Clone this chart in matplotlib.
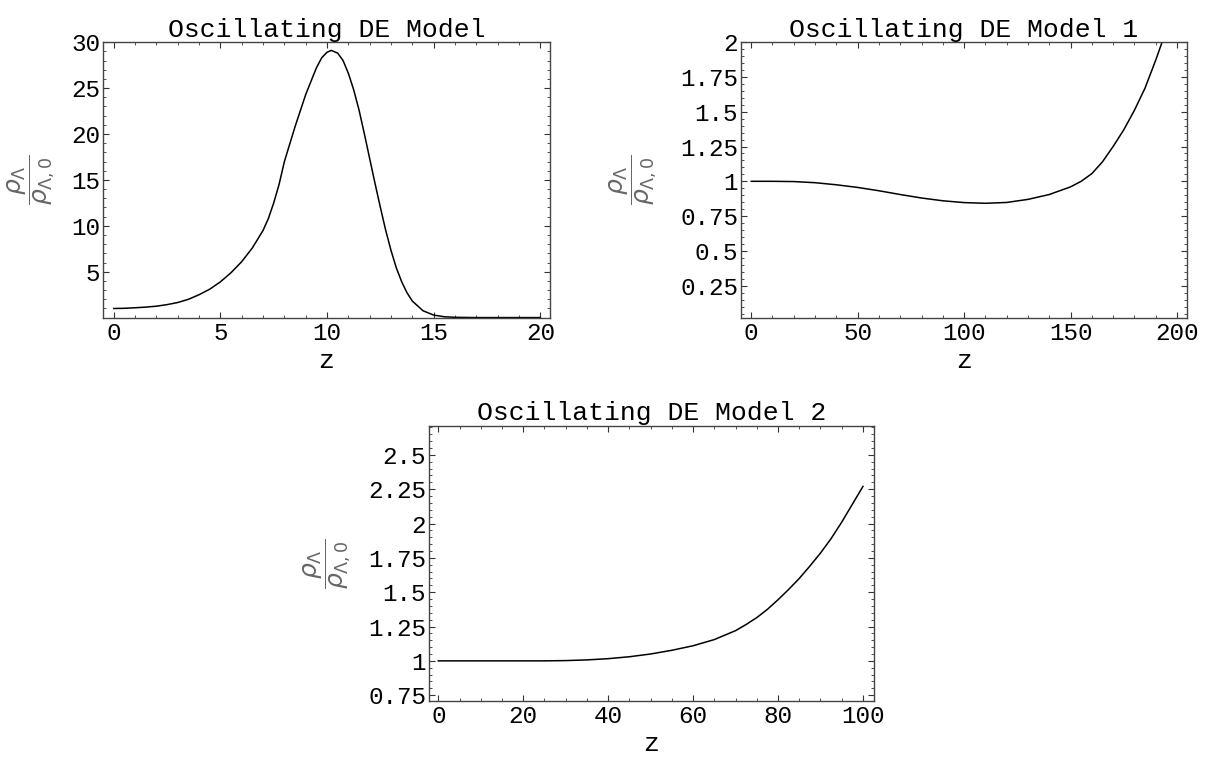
import matplotlib
matplotlib.use("Agg")
import matplotlib.pyplot as plt
from matplotlib.ticker import MultipleLocator

# values
z_model = [0, 0.5, 1, 1.5, 2, 2.5, 3, 3.5, 4, 4.5, 5, 5.5, 6, 6.5, 7, 7.25,
           7.5, 7.75, 8, 8.5, 9, 9.5, 9.75, 10, 10.2, 10.5, 10.75, 11, 11.25,
           11.5, 11.75, 12, 12.25, 12.5, 12.75, 13, 13.25, 13.5, 13.75, 14,
           14.5, 15, 15.5, 16, 17, 18, 19, 20]
rho_model = [1.0, 1.02, 1.08, 1.15, 1.25, 1.42, 1.65, 2.0, 2.5, 3.1, 3.9, 4.9,
             6.1, 7.6, 9.5, 10.8, 12.5, 14.5, 17.0, 20.8, 24.3, 27.2, 28.3,
             28.9, 29.1, 28.8, 28.0, 26.6, 24.8, 22.6, 20.0, 17.3, 14.6, 12.0,
             9.5, 7.3, 5.4, 3.9, 2.7, 1.8, 0.75, 0.28, 0.1, 0.04, 0.01, 0.01,
             0.01, 0.01]

z_model1 = [0, 10, 20, 30, 40, 50, 60, 70, 80, 90, 100, 110, 120, 130, 140,
            150, 155, 160, 165, 170, 175, 180, 185, 188, 190, 193]
rho_model1 = [1.0, 1.0, 0.998, 0.99, 0.975, 0.956, 0.932, 0.905, 0.88, 0.86,
              0.847, 0.842, 0.848, 0.87, 0.905, 0.96, 1.0, 1.055, 1.14, 1.25,
              1.37, 1.51, 1.67, 1.79, 1.87, 2.0]

z_model2 = [0, 10, 20, 25, 30, 35, 40, 45, 50, 55, 60, 65, 70, 72.5, 75,
            77.5, 80, 82.5, 85, 87.5, 90, 92.5, 95, 97.5, 100]
rho_model2 = [1.0, 1.0, 1.0, 1.0, 1.002, 1.007, 1.016, 1.03, 1.05, 1.077,
              1.11, 1.155, 1.22, 1.265, 1.315, 1.375, 1.445, 1.52, 1.6, 1.69,
              1.785, 1.89, 2.01, 2.14, 2.27]

titles = ["Oscillating DE Model", "Oscillating DE Model 1", "Oscillating DE Model 2"]
ylab = r"$\dfrac{\rho_\Lambda}{\rho_{\Lambda,0}}$"

plt.rcParams['font.family'] = ['Liberation Mono', 'DejaVu Sans Mono']

fig = plt.figure(figsize=(12.08, 7.58), dpi=100)

# axes boxes measured in pixels on the reference
ax1 = fig.add_axes([0.0853, 0.5809, 0.3700, 0.3635])
ax2 = fig.add_axes([0.6134, 0.5809, 0.3692, 0.3635])
ax3 = fig.add_axes([0.3551, 0.0756, 0.3684, 0.3624])

def style(ax, title, xmaj, xmin, ymaj, ymin, ylabx):
    ax.set_title(title, fontsize=19, pad=4)
    ax.xaxis.set_major_locator(MultipleLocator(xmaj))
    ax.xaxis.set_minor_locator(MultipleLocator(xmin))
    ax.yaxis.set_major_locator(MultipleLocator(ymaj))
    ax.yaxis.set_minor_locator(MultipleLocator(ymin))
    ax.tick_params(which='both', direction='in', top=True, right=True,
                   labelsize=17.5, color='#333333')
    ax.tick_params(axis='x', pad=3)
    ax.tick_params(axis='y', pad=2)
    ax.tick_params(which='major', length=4.5, width=0.8)
    ax.tick_params(which='minor', length=2.2, width=0.6)
    for s in ax.spines.values():
        s.set_color('#444444')
        s.set_linewidth(1.0)
    ax.set_xlabel("z", fontsize=19, labelpad=3)
    ax.set_ylabel(ylab, fontsize=18, color='#666666', rotation=90)
    ax.yaxis.set_label_coords(ylabx, 0.5)

ax1.plot(z_model, rho_model, color='black', lw=1.1)
ax1.set_xlim(-0.5, 20.45)
ax1.set_ylim(0, 30)
style(ax1, titles[0], 5, 1, 5, 1, -0.105)
ax1.set_yticks([5, 10, 15, 20, 25, 30])

ax2.plot(z_model1, rho_model1, color='black', lw=1.1)
ax2.set_xlim(-4.8, 204.7)
ax2.set_ylim(0.02, 2.0)
style(ax2, titles[1], 50, 10, 0.25, 0.05, -0.185)
ax2.set_yticks([0.25, 0.5, 0.75, 1, 1.25, 1.5, 1.75, 2])
ax2.set_yticklabels(["0.25", "0.5", "0.75", "1", "1.25", "1.5", "1.75", "2"])

ax3.plot(z_model2, rho_model2, color='black', lw=1.1)
ax3.set_xlim(-2.2, 102.6)
ax3.set_ylim(0.71, 2.71)
style(ax3, titles[2], 20, 5, 0.25, 0.05, -0.172)
ax3.set_yticks([0.75, 1, 1.25, 1.5, 1.75, 2, 2.25, 2.5])
ax3.set_yticklabels(["0.75", "1", "1.25", "1.5", "1.75", "2", "2.25", "2.5"])

fig.savefig("out.png", dpi=100)
